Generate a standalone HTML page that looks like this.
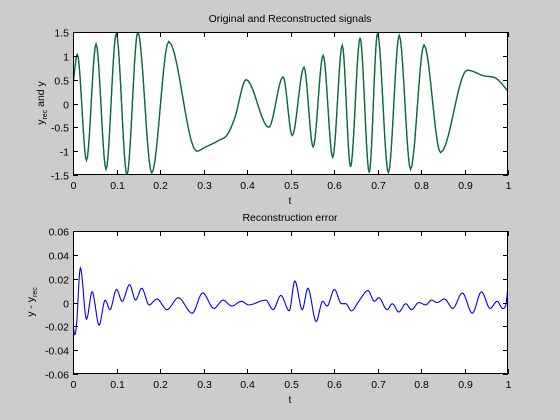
<!DOCTYPE html>
<html><head><meta charset="utf-8"><style>
html,body{margin:0;padding:0;background:#cccccc;}
svg{display:block;font-family:"Liberation Sans",sans-serif;}
</style></head><body>
<svg id="fig" width="560" height="420"></svg>
<script>
// Top: original/reconstructed signal extrema (t, y)
const sigT=[0,0.010,0.031,0.053,0.076,0.0995,0.124,0.149,0.181,0.220,0.284,0.303,0.334,0.355,0.372,0.398,0.45,0.483,0.504,0.531,0.552,0.575,0.597,0.619,0.638,0.66,0.681,0.70,0.725,0.75,0.776,0.807,0.845,0.906,0.945,0.972,1.0];
const sigY=[0.4,1.03,-1.19,1.25,-1.38,1.47,-1.5,1.5,-1.46,1.3,-1.0,-0.92,-0.78,-0.65,-0.3,0.5,-0.5,0.56,-0.67,0.76,-0.91,1.01,-1.13,1.22,-1.33,1.38,-1.45,1.47,-1.45,1.43,-1.38,1.23,-1.03,0.70,0.58,0.53,0.26];
// Bottom: reconstruction error
const errT=[0,0.004,0.008,0.017,0.031,0.044,0.06,0.074,0.085,0.1,0.113,0.13,0.144,0.158,0.175,0.193,0.216,0.242,0.274,0.298,0.324,0.345,0.365,0.387,0.404,0.443,0.46,0.478,0.497,0.51,0.527,0.54,0.559,0.574,0.584,0.601,0.617,0.627,0.64,0.657,0.678,0.693,0.703,0.722,0.734,0.749,0.765,0.778,0.795,0.811,0.824,0.837,0.854,0.873,0.895,0.918,0.939,0.959,0.975,0.988,0.995,1.0];
const errY=[-0.018,-0.027,-0.019,0.029,-0.014,0.009,-0.019,0.002,-0.006,0.011,0.001,0.015,0.002,0.012,-0.002,0.003,-0.006,0.004,-0.009,0.008,-0.005,0.002,-0.003,0.001,-0.002,0.002,-0.006,0.006,-0.007,0.018,-0.006,0.012,-0.016,0.001,-0.003,0.011,-0.001,-0.001,-0.007,0.001,0.010,0.001,0.004,-0.006,-0.001,-0.008,-0.001,-0.006,0,-0.002,0.002,0,0.003,-0.005,0.008,-0.009,0.009,-0.005,0.001,-0.005,-0.002,0.014];
const xTicks=[0,0.1,0.2,0.3,0.4,0.5,0.6,0.7,0.8,0.9,1];
const xTickLabels=["0","0.1","0.2","0.3","0.4","0.5","0.6","0.7","0.8","0.9","1"];
const topYTicks=[-1.5,-1,-0.5,0,0.5,1,1.5];
const topYLabels=["-1.5","-1","-0.5","0","0.5","1","1.5"];
const botYTicks=[-0.06,-0.04,-0.02,0,0.02,0.04,0.06];
const botYLabels=["-0.06","-0.04","-0.02","0","0.02","0.04","0.06"];

const NS="http://www.w3.org/2000/svg";
const svg=document.getElementById('fig');
function mk(tag,attrs,parent,text){const e=document.createElementNS(NS,tag);for(const k in attrs)e.setAttribute(k,attrs[k]);if(text!==undefined)e.textContent=text;(parent||svg).appendChild(e);return e;}

function monotone(xs,ys){
  const n=xs.length,d=[],m=[];
  for(let i=0;i<n-1;i++)d.push((ys[i+1]-ys[i])/(xs[i+1]-xs[i]));
  m[0]=d[0];m[n-1]=d[n-2];
  for(let i=1;i<n-1;i++){m[i]=(d[i-1]*d[i]<=0)?0:(d[i-1]+d[i])/2;}
  for(let i=0;i<n-1;i++){if(d[i]===0){m[i]=0;m[i+1]=0;continue;}const a=m[i]/d[i],b=m[i+1]/d[i],s=a*a+b*b;if(s>9){const t=3/Math.sqrt(s);m[i]=t*a*d[i];m[i+1]=t*b*d[i];}}
  const out=[];
  for(let i=0;i<n-1;i++){const h=xs[i+1]-xs[i];const N=10;
    for(let k=0;k<N;k++){const t=k/N,t2=t*t,t3=t2*t;
      const y=(2*t3-3*t2+1)*ys[i]+(t3-2*t2+t)*h*m[i]+(-2*t3+3*t2)*ys[i+1]+(t3-t2)*h*m[i+1];
      out.push([xs[i]+t*h,y]);}}
  out.push([xs[n-1],ys[n-1]]);return out;
}

function axes(name,top,bot,ymin,ymax,yT,yL,title,xlabel){
  const L=73,R=508;
  const sx=v=>L+(v-0)/(1-0)*(R-L);
  const sy=v=>bot-(v-ymin)/(ymax-ymin)*(bot-top);
  const g=mk('g',{});
  
  
  const bg=mk('rect',{x:L,y:top,width:R-L,height:bot-top,fill:'#fff'},g);
  
  return {g,sx,sy,L,R,top,bot,finish(){
    mk('rect',{x:L+0.5,y:top+0.5,width:R-L-1,height:bot-top-1,fill:'none',stroke:'#000','stroke-width':1},g);
    xTicks.forEach((v,i)=>{const x=Math.round(sx(v))+0.5;
      mk('line',{x1:x,x2:x,y1:bot,y2:bot-5,stroke:'#000'},g);
      mk('line',{x1:x,x2:x,y1:top,y2:top+5,stroke:'#000'},g);
      const t=mk('text',{x:x,y:bot+14,'font-size':10.5,'text-anchor':'middle'},g,xTickLabels[i]);
      });
    yT.forEach((v,i)=>{const y=Math.round(sy(v))+0.5;
      mk('line',{x1:L,x2:L+5,y1:y,y2:y,stroke:'#000'},g);
      mk('line',{x1:R,x2:R-5,y1:y,y2:y,stroke:'#000'},g);
      const t=mk('text',{x:L-4,y:y+4,'font-size':10.5,'text-anchor':'end'},g,yL[i]);
      });
    const tt=mk('text',{x:290,y:top-10,'font-size':10.5,'text-anchor':'middle'},g,title);
    
    const xl=mk('text',{x:290,y:bot+29,'font-size':10.5,'text-anchor':'middle'},g,xlabel);
    
  }};
}
function line(ax,pts,color,name,w){
  const clip='clip'+name;
  const cp=mk('clipPath',{id:clip},ax.g);mk('rect',{x:ax.L,y:ax.top,width:ax.R-ax.L,height:ax.bot-ax.top},cp);
  const d=pts.map((p,i)=>(i?'L':'M')+ax.sx(p[0]).toFixed(2)+' '+ax.sy(p[1]).toFixed(2)).join('');
  const p=mk('path',{d:d,fill:'none',stroke:color,'stroke-width':w,'clip-path':'url(#'+clip+')'},ax.g);
  
}

const a1=axes('signal-chart',32,175,-1.5,1.5,topYTicks,topYLabels,'Original and Reconstructed signals','t');
const sp=monotone(sigT,sigY);
line(a1,sp,'#0000ff','reconstructed-signal-line',1.3);
line(a1,sp,'#008000','original-signal-line',1.1);
a1.finish();
const yl1=mk('text',{transform:'translate(44,103) rotate(-90)','font-size':10.5,'text-anchor':'middle'},a1.g);

mk('tspan',{},yl1,'y');mk('tspan',{'font-size':7,dy:3},yl1,'rec');mk('tspan',{dy:-3},yl1,' and y');

const a2=axes('error-chart',231,374,-0.06,0.06,botYTicks,botYLabels,'Reconstruction error','t');
line(a2,monotone(errT,errY),'#0000ff','error-line',1.1);
a2.finish();
const yl2=mk('text',{transform:'translate(34,302) rotate(-90)','font-size':10.5,'text-anchor':'middle'},a2.g);

mk('tspan',{},yl2,'y - y');mk('tspan',{'font-size':7,dy:3},yl2,'rec');
</script>
</body></html>
